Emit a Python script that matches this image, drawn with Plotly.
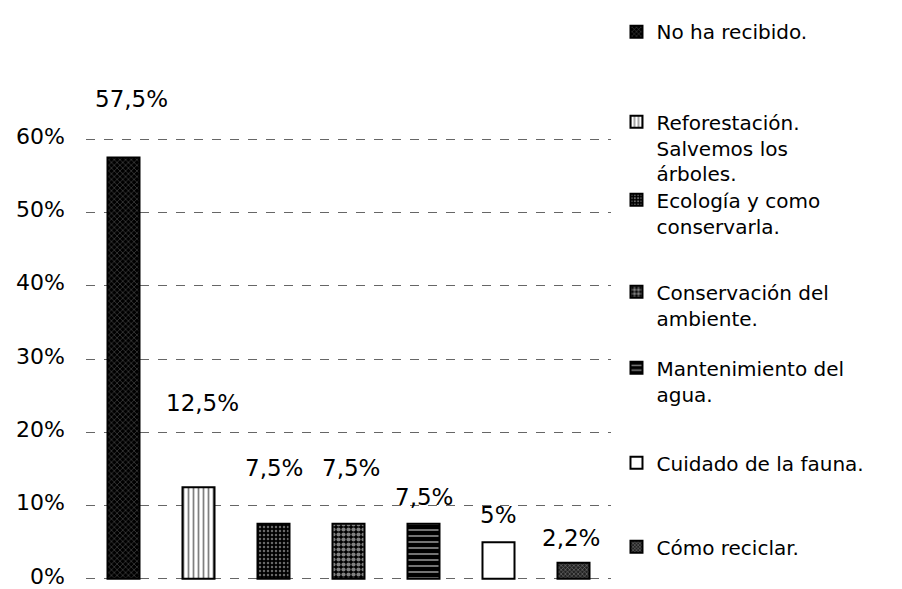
import plotly.graph_objects as go

# data
temas = [
    "No ha recibido.",
    "Reforestación.<br>Salvemos los<br>árboles.",
    "Ecología y como<br>conservarla.",
    "Conservación del<br>ambiente.",
    "Mantenimiento del<br>agua.",
    "Cuidado de la fauna.",
    "Cómo reciclar.",
]
porcentajes = [57.5, 12.5, 7.5, 7.5, 7.5, 5, 2.2]
y_ticks = [0, 10, 20, 30, 40, 50, 60]
y_ticktext = ["0%", "10%", "20%", "30%", "40%", "50%", "60%"]

# styling
FONT = "DejaVu Sans"
FS = 23
W, H = 902, 589
Y_PAD = 0.3  # a bit of room so the 0% and 60% grid lines get drawn
PX_PER_UNIT = 439.5 / 60
M_L, M_R = 85.5, 290.5
M_T = 139 - Y_PAD * PX_PER_UNIT
M_B = H - 578.5 - Y_PAD * PX_PER_UNIT

patterns = [
    dict(color="black", shape="x", fg="#b0b0b0", size=4, solidity=0.25),
    dict(color="white", shape="|", fg="black", size=5, solidity=0.35),
    dict(color="black", shape=".", fg="#cfcfcf", size=4, solidity=0.3),
    dict(color="black", shape=".", fg="white", size=5, solidity=0.55),
    dict(color="black", shape="-", fg="white", size=6, solidity=0.3),
    dict(color="white", shape="", fg="black", size=6, solidity=0.3),
    dict(color="#222", shape="x", fg="#cccccc", size=3, solidity=0.35),
]
# label offsets (pixels above bar top, horizontal nudge)
label_dy = [59, 84, 56, 56, 27, 27, 25]
label_dx = [8, 4, 0, 2, 0, 0, -3]
# legend first-line centres in pixels
legend_py = [32, 122, 200, 292, 368, 463, 547]

plot_h = H - M_T - M_B
plot_w = W - M_L - M_R


def paper_y(py):
    return (H - M_B - py) / plot_h


def paper_x(px):
    return (px - M_L) / plot_w


fig = go.Figure()
for i, (tema, val, p) in enumerate(zip(temas, porcentajes, patterns)):
    lg = "legend" if i == 0 else "legend%d" % (i + 1)
    fig.add_trace(
        go.Bar(
            x=[i],
            y=[val],
            name=tema,
            legend=lg,
            marker=dict(
                color=p["color"],
                line=dict(color="black", width=2),
                pattern=dict(
                    shape=p["shape"],
                    fgcolor=p["fg"],
                    size=p["size"],
                    solidity=p["solidity"],
                    fillmode="overlay",
                ),
            ),
            hoverinfo="skip",
        )
    )
    txt = ("%g" % val).replace(".", ",") + "%"
    fig.add_annotation(
        x=i,
        y=val,
        text=txt,
        showarrow=False,
        yshift=label_dy[i],
        xshift=label_dx[i],
        font=dict(family=FONT, size=FS, color="black"),
    )

legends = {}
for i, py in enumerate(legend_py):
    key = "legend" if i == 0 else "legend%d" % (i + 1)
    legends[key] = dict(
        x=paper_x(617),
        y=paper_y(py - 20),
        xanchor="left",
        yanchor="top",
        valign="top",
        bgcolor="rgba(0,0,0,0)",
        font=dict(family=FONT, size=20, color="black"),
        itemwidth=30,
    )

fig.update_layout(
    width=W,
    height=H,
    barmode="overlay",
    bargap=0.573,
    paper_bgcolor="white",
    plot_bgcolor="white",
    margin=dict(l=M_L, r=M_R, t=M_T, b=M_B, autoexpand=False),
    font=dict(family=FONT, size=FS, color="black"),
    showlegend=True,
    **legends,
)

fig.update_xaxes(
    range=[-0.5, len(temas) - 0.5],
    showticklabels=False,
    showgrid=False,
    zeroline=False,
    showline=False,
    ticks="",
)

fig.update_yaxes(
    range=[-Y_PAD, 60 + Y_PAD],
    tickvals=y_ticks,
    ticktext=y_ticktext,
    showgrid=True,
    gridcolor="#666",
    griddash="dash",
    gridwidth=1,
    zeroline=False,
    showline=False,
    ticks="",
    ticklabelstandoff=20,
    ticklabelshift=-3,
    ticklabeloverflow="allow",
    tickfont=dict(family=FONT, size=22, color="black"),
)

# drop the default 8px page margin so the figure sits at the window corner
fig.write_html(
    "out.html",
    config={"displayModeBar": False},
    post_script="document.body.style.margin = '0';",
)
